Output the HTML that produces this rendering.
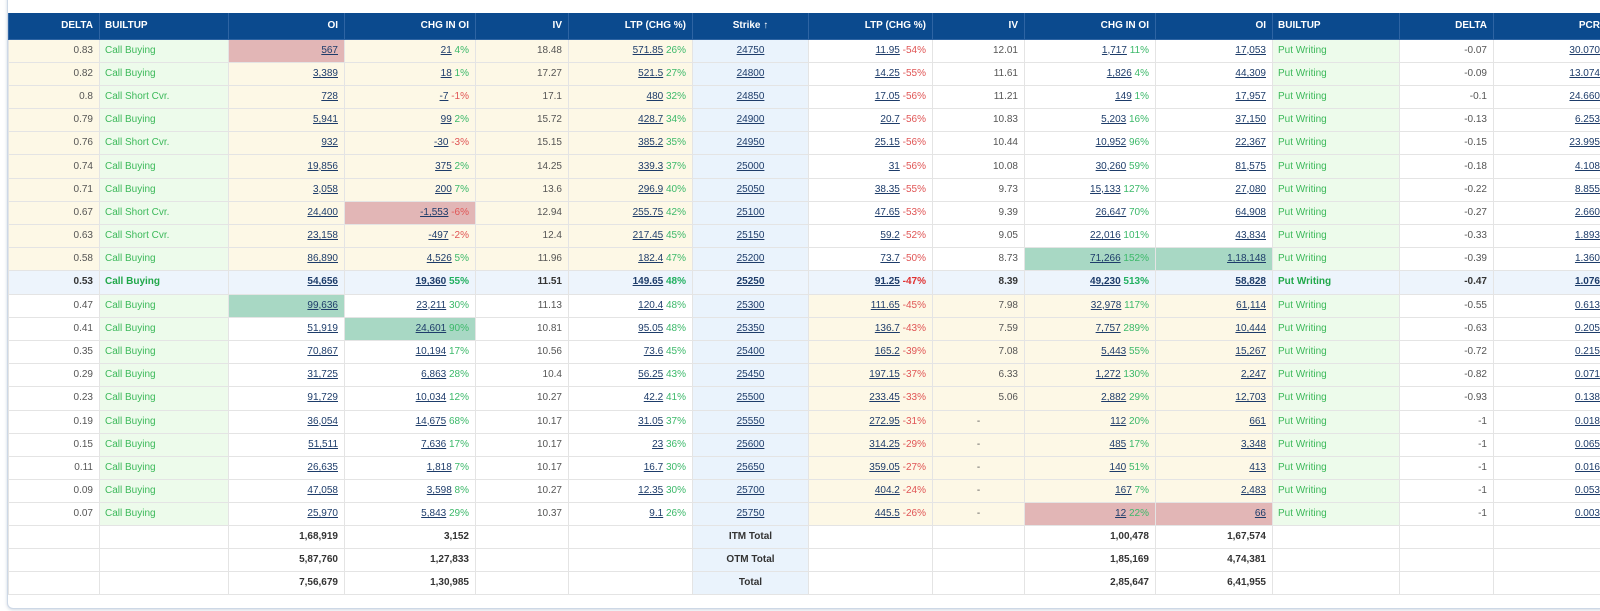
<!DOCTYPE html>
<html><head><meta charset="utf-8"><style>
html,body{margin:0;padding:0;background:#fff;width:1600px;height:611px;overflow:hidden;font-family:"Liberation Sans",sans-serif;}
.wrap{position:absolute;left:7px;top:-12px;width:1620px;height:619px;border:1px solid #cdd8e6;border-radius:6px;box-shadow:0 1px 3px rgba(120,140,170,.35);background:#fff;}
.lbl{position:absolute;top:-8px;font-size:10px;font-weight:bold;}
table{position:absolute;left:8px;top:13px;border-collapse:collapse;table-layout:fixed;width:1598px;font-size:10px;color:#555;}
td,th{border:1px solid #e4e4e4;padding:0 6px;text-align:right;white-space:nowrap;overflow:hidden;line-height:12px;}
th{background:#0b4a8e;color:#fff;height:25.5px;font-weight:bold;border-color:#2e64a3;border-top:none;}
tr.d td{height:22.2px;padding-top:0;padding-bottom:0;}
th.l,td.l{text-align:left;padding-left:5px;}
th.c,td.c{text-align:center;}
.y{background:#fdf8e6;}
.g{background:#edfbeb;color:#3cb95a;}
.s{background:#eaf3fc;}
.rc{background:#e2b6b6;}
.gc{background:#a8d8c4;}
a{color:#1d3c6a;text-decoration:underline;}
.p{color:#3cb96a;}
.n{color:#e05555;}
tr.hl td{background:#edf4fc;font-weight:bold;color:#333;}
tr.hl td.g{color:#21a84a;}
tr.hl .n{color:#e03030;}
tr.hl .p{color:#21b060;}
tr.t td{font-weight:bold;color:#333;height:22px;}
</style></head><body>
<div class="wrap"></div>
<div class="lbl" style="left:296px;color:#3cb95a">CALLS</div>
<div class="lbl" style="left:1166px;color:#e05555">PUTS</div>
<table>
<colgroup><col style="width:91px"><col style="width:129px"><col style="width:116px"><col style="width:131px"><col style="width:93px"><col style="width:124px"><col style="width:116px"><col style="width:124px"><col style="width:92px"><col style="width:131px"><col style="width:117px"><col style="width:127px"><col style="width:94px"><col style="width:113px"></colgroup>
<tr><th>DELTA</th><th class="l">BUILTUP</th><th>OI</th><th>CHG IN OI</th><th>IV</th><th>LTP (CHG %)</th><th class="c">Strike ↑</th><th>LTP (CHG %)</th><th>IV</th><th>CHG IN OI</th><th>OI</th><th class="l">BUILTUP</th><th>DELTA</th><th>PCR</th></tr>
<tr class="d"><td class="y">0.83</td><td class="l g">Call Buying</td><td class="rc"><a>567</a></td><td class="y"><a>21</a> <span class="p">4%</span></td><td class="y">18.48</td><td class="y"><a>571.85</a> <span class="p">26%</span></td><td class="c s"><a>24750</a></td><td><a>11.95</a> <span class="n">-54%</span></td><td>12.01</td><td><a>1,717</a> <span class="p">11%</span></td><td><a>17,053</a></td><td class="l g">Put Writing</td><td>-0.07</td><td><a>30.070</a></td></tr>
<tr class="d"><td class="y">0.82</td><td class="l g">Call Buying</td><td class="y"><a>3,389</a></td><td class="y"><a>18</a> <span class="p">1%</span></td><td class="y">17.27</td><td class="y"><a>521.5</a> <span class="p">27%</span></td><td class="c s"><a>24800</a></td><td><a>14.25</a> <span class="n">-55%</span></td><td>11.61</td><td><a>1,826</a> <span class="p">4%</span></td><td><a>44,309</a></td><td class="l g">Put Writing</td><td>-0.09</td><td><a>13.074</a></td></tr>
<tr class="d"><td class="y">0.8</td><td class="l g">Call Short Cvr.</td><td class="y"><a>728</a></td><td class="y"><a>-7</a> <span class="n">-1%</span></td><td class="y">17.1</td><td class="y"><a>480</a> <span class="p">32%</span></td><td class="c s"><a>24850</a></td><td><a>17.05</a> <span class="n">-56%</span></td><td>11.21</td><td><a>149</a> <span class="p">1%</span></td><td><a>17,957</a></td><td class="l g">Put Writing</td><td>-0.1</td><td><a>24.660</a></td></tr>
<tr class="d"><td class="y">0.79</td><td class="l g">Call Buying</td><td class="y"><a>5,941</a></td><td class="y"><a>99</a> <span class="p">2%</span></td><td class="y">15.72</td><td class="y"><a>428.7</a> <span class="p">34%</span></td><td class="c s"><a>24900</a></td><td><a>20.7</a> <span class="n">-56%</span></td><td>10.83</td><td><a>5,203</a> <span class="p">16%</span></td><td><a>37,150</a></td><td class="l g">Put Writing</td><td>-0.13</td><td><a>6.253</a></td></tr>
<tr class="d"><td class="y">0.76</td><td class="l g">Call Short Cvr.</td><td class="y"><a>932</a></td><td class="y"><a>-30</a> <span class="n">-3%</span></td><td class="y">15.15</td><td class="y"><a>385.2</a> <span class="p">35%</span></td><td class="c s"><a>24950</a></td><td><a>25.15</a> <span class="n">-56%</span></td><td>10.44</td><td><a>10,952</a> <span class="p">96%</span></td><td><a>22,367</a></td><td class="l g">Put Writing</td><td>-0.15</td><td><a>23.995</a></td></tr>
<tr class="d"><td class="y">0.74</td><td class="l g">Call Buying</td><td class="y"><a>19,856</a></td><td class="y"><a>375</a> <span class="p">2%</span></td><td class="y">14.25</td><td class="y"><a>339.3</a> <span class="p">37%</span></td><td class="c s"><a>25000</a></td><td><a>31</a> <span class="n">-56%</span></td><td>10.08</td><td><a>30,260</a> <span class="p">59%</span></td><td><a>81,575</a></td><td class="l g">Put Writing</td><td>-0.18</td><td><a>4.108</a></td></tr>
<tr class="d"><td class="y">0.71</td><td class="l g">Call Buying</td><td class="y"><a>3,058</a></td><td class="y"><a>200</a> <span class="p">7%</span></td><td class="y">13.6</td><td class="y"><a>296.9</a> <span class="p">40%</span></td><td class="c s"><a>25050</a></td><td><a>38.35</a> <span class="n">-55%</span></td><td>9.73</td><td><a>15,133</a> <span class="p">127%</span></td><td><a>27,080</a></td><td class="l g">Put Writing</td><td>-0.22</td><td><a>8.855</a></td></tr>
<tr class="d"><td class="y">0.67</td><td class="l g">Call Short Cvr.</td><td class="y"><a>24,400</a></td><td class="rc"><a>-1,553</a> <span class="n">-6%</span></td><td class="y">12.94</td><td class="y"><a>255.75</a> <span class="p">42%</span></td><td class="c s"><a>25100</a></td><td><a>47.65</a> <span class="n">-53%</span></td><td>9.39</td><td><a>26,647</a> <span class="p">70%</span></td><td><a>64,908</a></td><td class="l g">Put Writing</td><td>-0.27</td><td><a>2.660</a></td></tr>
<tr class="d"><td class="y">0.63</td><td class="l g">Call Short Cvr.</td><td class="y"><a>23,158</a></td><td class="y"><a>-497</a> <span class="n">-2%</span></td><td class="y">12.4</td><td class="y"><a>217.45</a> <span class="p">45%</span></td><td class="c s"><a>25150</a></td><td><a>59.2</a> <span class="n">-52%</span></td><td>9.05</td><td><a>22,016</a> <span class="p">101%</span></td><td><a>43,834</a></td><td class="l g">Put Writing</td><td>-0.33</td><td><a>1.893</a></td></tr>
<tr class="d"><td class="y">0.58</td><td class="l g">Call Buying</td><td class="y"><a>86,890</a></td><td class="y"><a>4,526</a> <span class="p">5%</span></td><td class="y">11.96</td><td class="y"><a>182.4</a> <span class="p">47%</span></td><td class="c s"><a>25200</a></td><td><a>73.7</a> <span class="n">-50%</span></td><td>8.73</td><td class="gc"><a>71,266</a> <span class="p">152%</span></td><td class="gc"><a>1,18,148</a></td><td class="l g">Put Writing</td><td>-0.39</td><td><a>1.360</a></td></tr>
<tr class="d hl"><td>0.53</td><td class="l g">Call Buying</td><td><a>54,656</a></td><td><a>19,360</a> <span class="p">55%</span></td><td>11.51</td><td><a>149.65</a> <span class="p">48%</span></td><td class="c"><a>25250</a></td><td><a>91.25</a> <span class="n">-47%</span></td><td>8.39</td><td><a>49,230</a> <span class="p">513%</span></td><td><a>58,828</a></td><td class="l g">Put Writing</td><td>-0.47</td><td><a>1.076</a></td></tr>
<tr class="d"><td>0.47</td><td class="l g">Call Buying</td><td class="gc"><a>99,636</a></td><td><a>23,211</a> <span class="p">30%</span></td><td>11.13</td><td><a>120.4</a> <span class="p">48%</span></td><td class="c s"><a>25300</a></td><td class="y"><a>111.65</a> <span class="n">-45%</span></td><td class="y">7.98</td><td class="y"><a>32,978</a> <span class="p">117%</span></td><td class="y"><a>61,114</a></td><td class="l g">Put Writing</td><td>-0.55</td><td><a>0.613</a></td></tr>
<tr class="d"><td>0.41</td><td class="l g">Call Buying</td><td><a>51,919</a></td><td class="gc"><a>24,601</a> <span class="p">90%</span></td><td>10.81</td><td><a>95.05</a> <span class="p">48%</span></td><td class="c s"><a>25350</a></td><td class="y"><a>136.7</a> <span class="n">-43%</span></td><td class="y">7.59</td><td class="y"><a>7,757</a> <span class="p">289%</span></td><td class="y"><a>10,444</a></td><td class="l g">Put Writing</td><td>-0.63</td><td><a>0.205</a></td></tr>
<tr class="d"><td>0.35</td><td class="l g">Call Buying</td><td><a>70,867</a></td><td><a>10,194</a> <span class="p">17%</span></td><td>10.56</td><td><a>73.6</a> <span class="p">45%</span></td><td class="c s"><a>25400</a></td><td class="y"><a>165.2</a> <span class="n">-39%</span></td><td class="y">7.08</td><td class="y"><a>5,443</a> <span class="p">55%</span></td><td class="y"><a>15,267</a></td><td class="l g">Put Writing</td><td>-0.72</td><td><a>0.215</a></td></tr>
<tr class="d"><td>0.29</td><td class="l g">Call Buying</td><td><a>31,725</a></td><td><a>6,863</a> <span class="p">28%</span></td><td>10.4</td><td><a>56.25</a> <span class="p">43%</span></td><td class="c s"><a>25450</a></td><td class="y"><a>197.15</a> <span class="n">-37%</span></td><td class="y">6.33</td><td class="y"><a>1,272</a> <span class="p">130%</span></td><td class="y"><a>2,247</a></td><td class="l g">Put Writing</td><td>-0.82</td><td><a>0.071</a></td></tr>
<tr class="d"><td>0.23</td><td class="l g">Call Buying</td><td><a>91,729</a></td><td><a>10,034</a> <span class="p">12%</span></td><td>10.27</td><td><a>42.2</a> <span class="p">41%</span></td><td class="c s"><a>25500</a></td><td class="y"><a>233.45</a> <span class="n">-33%</span></td><td class="y">5.06</td><td class="y"><a>2,882</a> <span class="p">29%</span></td><td class="y"><a>12,703</a></td><td class="l g">Put Writing</td><td>-0.93</td><td><a>0.138</a></td></tr>
<tr class="d"><td>0.19</td><td class="l g">Call Buying</td><td><a>36,054</a></td><td><a>14,675</a> <span class="p">68%</span></td><td>10.17</td><td><a>31.05</a> <span class="p">37%</span></td><td class="c s"><a>25550</a></td><td class="y"><a>272.95</a> <span class="n">-31%</span></td><td class="y c">-</td><td class="y"><a>112</a> <span class="p">20%</span></td><td class="y"><a>661</a></td><td class="l g">Put Writing</td><td>-1</td><td><a>0.018</a></td></tr>
<tr class="d"><td>0.15</td><td class="l g">Call Buying</td><td><a>51,511</a></td><td><a>7,636</a> <span class="p">17%</span></td><td>10.17</td><td><a>23</a> <span class="p">36%</span></td><td class="c s"><a>25600</a></td><td class="y"><a>314.25</a> <span class="n">-29%</span></td><td class="y c">-</td><td class="y"><a>485</a> <span class="p">17%</span></td><td class="y"><a>3,348</a></td><td class="l g">Put Writing</td><td>-1</td><td><a>0.065</a></td></tr>
<tr class="d"><td>0.11</td><td class="l g">Call Buying</td><td><a>26,635</a></td><td><a>1,818</a> <span class="p">7%</span></td><td>10.17</td><td><a>16.7</a> <span class="p">30%</span></td><td class="c s"><a>25650</a></td><td class="y"><a>359.05</a> <span class="n">-27%</span></td><td class="y c">-</td><td class="y"><a>140</a> <span class="p">51%</span></td><td class="y"><a>413</a></td><td class="l g">Put Writing</td><td>-1</td><td><a>0.016</a></td></tr>
<tr class="d"><td>0.09</td><td class="l g">Call Buying</td><td><a>47,058</a></td><td><a>3,598</a> <span class="p">8%</span></td><td>10.27</td><td><a>12.35</a> <span class="p">30%</span></td><td class="c s"><a>25700</a></td><td class="y"><a>404.2</a> <span class="n">-24%</span></td><td class="y c">-</td><td class="y"><a>167</a> <span class="p">7%</span></td><td class="y"><a>2,483</a></td><td class="l g">Put Writing</td><td>-1</td><td><a>0.053</a></td></tr>
<tr class="d"><td>0.07</td><td class="l g">Call Buying</td><td><a>25,970</a></td><td><a>5,843</a> <span class="p">29%</span></td><td>10.37</td><td><a>9.1</a> <span class="p">26%</span></td><td class="c s"><a>25750</a></td><td class="y"><a>445.5</a> <span class="n">-26%</span></td><td class="y c">-</td><td class="rc"><a>12</a> <span class="p">22%</span></td><td class="rc"><a>66</a></td><td class="l g">Put Writing</td><td>-1</td><td><a>0.003</a></td></tr>
<tr class="t"><td></td><td></td><td>1,68,919</td><td>3,152</td><td></td><td></td><td class="c s">ITM Total</td><td></td><td></td><td>1,00,478</td><td>1,67,574</td><td></td><td></td><td></td></tr>
<tr class="t"><td></td><td></td><td>5,87,760</td><td>1,27,833</td><td></td><td></td><td class="c s">OTM Total</td><td></td><td></td><td>1,85,169</td><td>4,74,381</td><td></td><td></td><td></td></tr>
<tr class="t"><td></td><td></td><td>7,56,679</td><td>1,30,985</td><td></td><td></td><td class="c s">Total</td><td></td><td></td><td>2,85,647</td><td>6,41,955</td><td></td><td></td><td></td></tr>
</table>
</body></html>
